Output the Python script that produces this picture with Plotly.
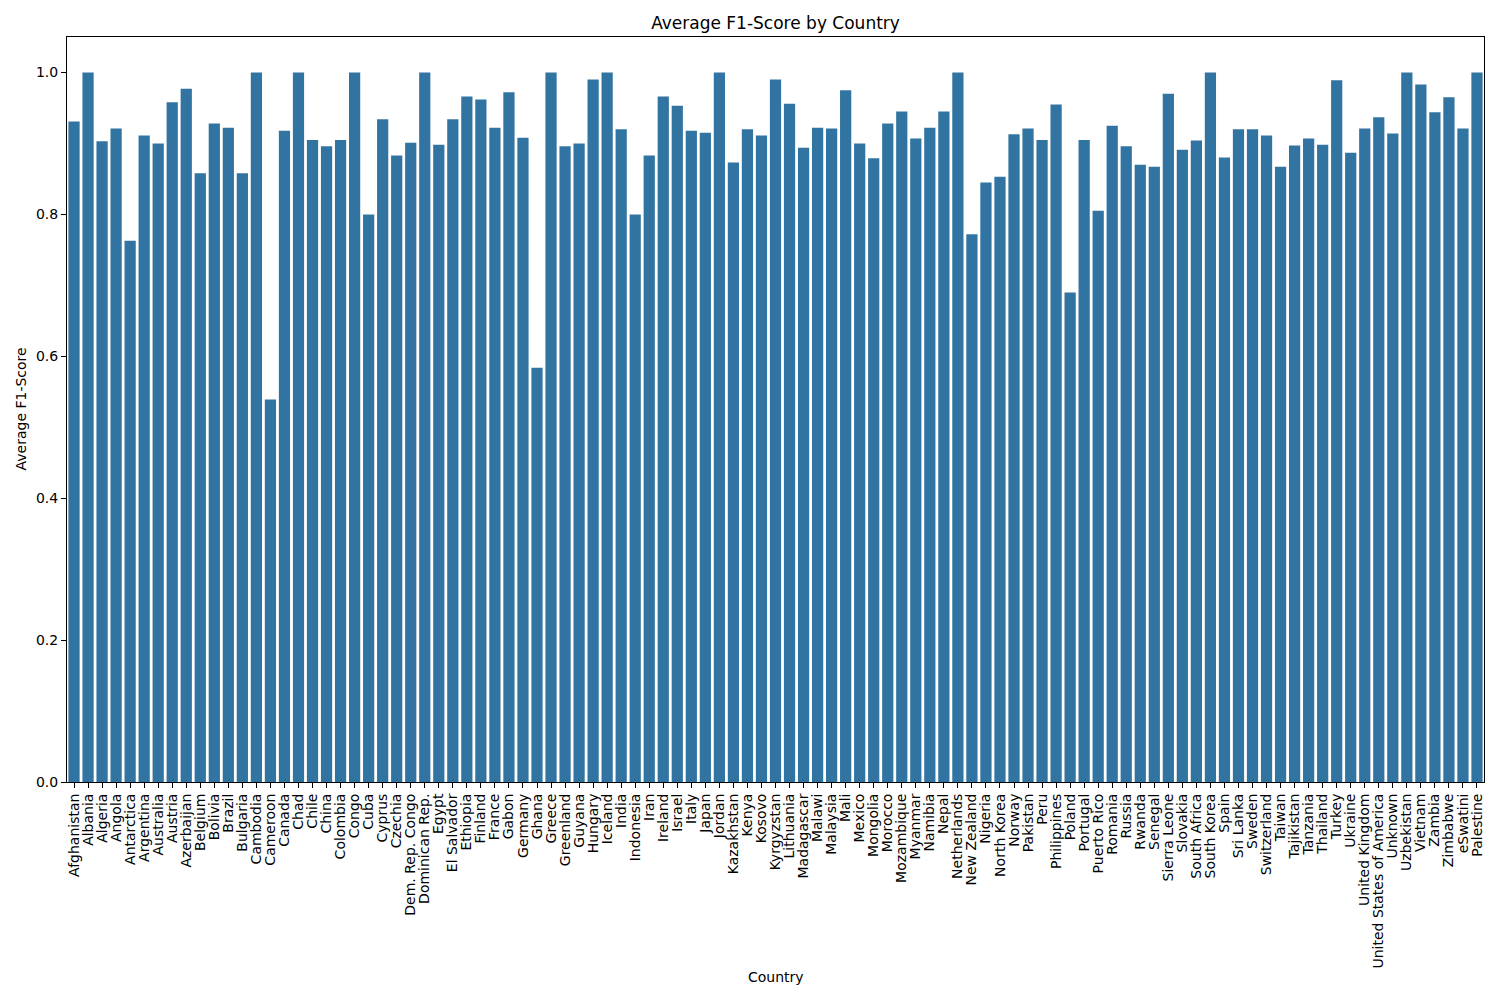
import plotly.graph_objects as go

countries = ["Afghanistan", "Albania", "Algeria", "Angola", "Antarctica", "Argentina", "Australia", "Austria",
             "Azerbaijan", "Belgium", "Bolivia", "Brazil", "Bulgaria", "Cambodia", "Cameroon", "Canada", "Chad",
             "Chile", "China", "Colombia", "Congo", "Cuba", "Cyprus", "Czechia", "Dem. Rep. Congo", "Dominican Rep.",
             "Egypt", "El Salvador", "Ethiopia", "Finland", "France", "Gabon", "Germany", "Ghana", "Greece",
             "Greenland", "Guyana", "Hungary", "Iceland", "India", "Indonesia", "Iran", "Ireland", "Israel", "Italy",
             "Japan", "Jordan", "Kazakhstan", "Kenya", "Kosovo", "Kyrgyzstan", "Lithuania", "Madagascar", "Malawi",
             "Malaysia", "Mali", "Mexico", "Mongolia", "Morocco", "Mozambique", "Myanmar", "Namibia", "Nepal",
             "Netherlands", "New Zealand", "Nigeria", "North Korea", "Norway", "Pakistan", "Peru", "Philippines",
             "Poland", "Portugal", "Puerto Rico", "Romania", "Russia", "Rwanda", "Senegal", "Sierra Leone",
             "Slovakia", "South Africa", "South Korea", "Spain", "Sri Lanka", "Sweden", "Switzerland", "Taiwan",
             "Tajikistan", "Tanzania", "Thailand", "Turkey", "Ukraine", "United Kingdom", "United States of America",
             "Unknown", "Uzbekistan", "Vietnam", "Zambia", "Zimbabwe", "eSwatini", "Palestine"]

f1_scores = [0.931, 1.0, 0.903, 0.921, 0.763, 0.911, 0.900, 0.958,
             0.977, 0.858, 0.928, 0.922, 0.858, 1.0, 0.539, 0.918, 1.0,
             0.905, 0.896, 0.905, 1.0, 0.800, 0.934, 0.883, 0.901, 1.0,
             0.898, 0.934, 0.966, 0.962, 0.922, 0.972, 0.908, 0.584, 1.0,
             0.896, 0.900, 0.990, 1.0, 0.920, 0.800, 0.883, 0.966, 0.953, 0.918,
             0.915, 1.0, 0.873, 0.920, 0.911, 0.990, 0.956, 0.894, 0.922,
             0.921, 0.975, 0.900, 0.879, 0.928, 0.945, 0.907, 0.922, 0.945,
             1.0, 0.772, 0.845, 0.853, 0.913, 0.921, 0.905, 0.955,
             0.690, 0.905, 0.805, 0.925, 0.896, 0.870, 0.867, 0.970,
             0.891, 0.904, 1.0, 0.880, 0.920, 0.920, 0.911, 0.867,
             0.897, 0.907, 0.898, 0.989, 0.887, 0.921, 0.937,
             0.914, 1.0, 0.983, 0.944, 0.965, 0.921, 1.0]

y_ticks = [0.0, 0.2, 0.4, 0.6, 0.8, 1.0]

FONT = "DejaVu Sans"

fig = go.Figure(go.Bar(
    x=countries, y=f1_scores,
    marker=dict(color="#3274a1", line=dict(width=0)),
    width=0.8,
))

fig.update_layout(
    width=1500, height=1000,
    paper_bgcolor="white", plot_bgcolor="white",
    margin=dict(l=59, r=24, t=29, b=226, pad=0),
    font=dict(family=FONT, size=14, color="black"),
    title=dict(text="Average F1-Score by Country", x=(59 + 1417 / 2) / 1500, xanchor="center",
               y=1 - 15 / 1000, yanchor="middle", font=dict(size=17, family=FONT)),
    showlegend=False,
    bargap=0.2,
    annotations=[
        dict(text="Country", xref="paper", yref="paper", x=0.5, y=0, yshift=-195,
             xanchor="center", yanchor="middle", showarrow=False, font=dict(size=14, family=FONT)),
        dict(text="Average F1-Score", xref="paper", yref="paper", x=0, y=0.5, xshift=-47,
             xanchor="center", yanchor="middle", textangle=-90, showarrow=False,
             font=dict(size=14, family=FONT)),
    ],
)

fig.update_xaxes(
    range=[-0.5, len(countries) - 0.5],
    tickmode="array", tickvals=countries, ticktext=countries,
    tickangle=-90, ticks="outside", ticklen=5, tickwidth=1, tickcolor="black",
    showline=True, linecolor="black", linewidth=1, mirror=True,
    showgrid=False, zeroline=False,
    tickfont=dict(size=14, family=FONT),
    automargin=False,
)

fig.update_yaxes(
    range=[0, 1.05],
    tickvals=y_ticks, ticktext=[f"{v:.1f}" for v in y_ticks],
    ticks="outside", ticklen=5, tickwidth=1, tickcolor="black",
    showline=True, linecolor="black", linewidth=1, mirror=True,
    showgrid=False, zeroline=False,
    tickfont=dict(size=14, family=FONT),
    automargin=False,
)

fig.write_html("out.html")
